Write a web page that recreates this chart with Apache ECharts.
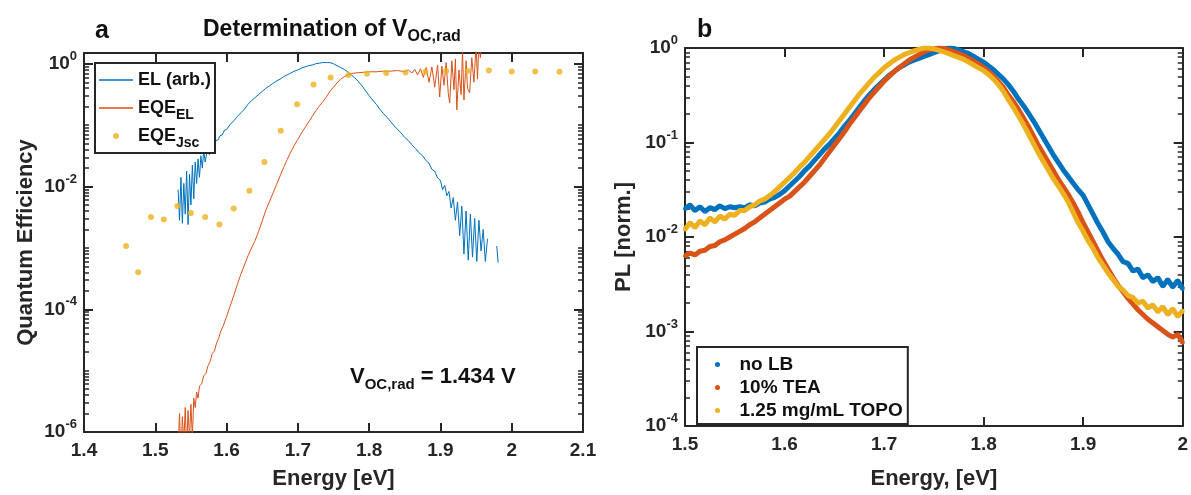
<!DOCTYPE html>
<html><head><meta charset="utf-8">
<script src="https://cdn.jsdelivr.net/npm/echarts@6/dist/echarts.min.js"></script>
<style>html,body{margin:0;padding:0;background:#fff}#c{width:1191px;height:495px}</style>
</head><body><div id="c"></div>
<script>
// ---------------- Panel a data ----------------
const energyEL = [1.532,1.534,1.536,1.538,1.540,1.542,1.544,1.546,1.548,1.550,1.552,1.554,1.556,1.558,1.560,1.562,1.564,1.566,1.568,1.570,
1.573,1.576,1.579,1.582,1.585,1.588,1.591,1.594,1.597,1.600,
1.605,1.610,1.615,1.620,1.625,1.630,1.635,1.640,1.645,1.650,1.655,1.660,1.665,1.670,1.675,1.680,1.685,1.690,1.695,1.700,
1.705,1.710,1.715,1.720,1.725,1.730,1.735,1.740,1.745,1.750,1.755,1.760,1.765,1.770,1.775,1.780,1.785,1.790,1.795,1.800,
1.805,1.810,1.815,1.820,1.825,1.830,1.835,1.840,1.845,1.850,1.855,1.860,1.865,1.870,1.875,1.880,
1.884,1.888,1.892,1.896,1.900,
1.903,1.906,1.909,1.912,1.915,1.918,1.921,1.924,1.927,1.930,1.933,1.936,1.939,1.942,1.945,1.948,1.951,1.954,1.957,1.960,1.963,1.966,
1.970,1.979,1.981];
// log10 of EL (arb.)
const log10EL = [-2.05,-2.55,-1.85,-2.60,-1.95,-2.45,-1.75,-2.62,-1.80,-2.30,-1.65,-2.20,-1.60,-1.95,-1.55,-1.85,-1.50,-1.70,-1.42,-1.60,
-1.40,-1.48,-1.33,-1.36,-1.25,-1.24,-1.17,-1.16,-1.08,-1.07,
-0.99,-0.93,-0.86,-0.80,-0.74,-0.66,-0.60,-0.55,-0.50,-0.45,-0.40,-0.36,-0.32,-0.28,-0.25,-0.21,-0.18,-0.15,-0.12,-0.10,
-0.07,-0.05,-0.03,-0.02,0.00,0.01,0.02,0.02,0.02,0.00,-0.03,-0.06,-0.09,-0.13,-0.18,-0.23,-0.29,-0.36,-0.44,-0.52,
-0.59,-0.66,-0.74,-0.81,-0.87,-0.94,-1.01,-1.07,-1.13,-1.20,-1.25,-1.32,-1.38,-1.45,-1.50,-1.58,
-1.62,-1.72,-1.75,-1.86,-1.90,
-2.05,-1.98,-2.15,-2.08,-2.35,-2.18,-2.55,-2.25,-2.80,-2.32,-3.10,-2.40,-3.20,-2.45,-3.15,-2.52,-3.22,-2.55,-3.05,-2.70,-3.22,-2.85,
null,-2.97,-3.24];

const energyEQEEL = [1.532,1.534,1.536,1.538,1.540,1.542,1.544,1.546,1.548,1.550,1.552,1.554,1.556,1.558,1.560,1.562,
1.565,1.568,1.571,1.574,1.577,1.580,1.583,1.586,1.589,1.592,1.595,
1.600,1.605,1.610,1.615,1.620,1.625,1.630,1.635,1.640,1.645,1.650,1.655,1.660,1.665,1.670,1.675,1.680,1.685,1.690,1.695,
1.700,1.705,1.710,1.715,1.720,1.725,1.730,1.735,1.740,1.745,1.750,1.755,1.760,1.765,1.770,1.775,1.780,
1.790,1.800,1.810,1.820,1.830,1.840,1.850,
1.855,1.860,1.864,1.868,1.872,1.876,1.880,1.884,1.888,1.892,1.896,1.899,1.902,1.905,1.908,1.911,1.913,1.916,1.919,1.921,
1.923,1.926,1.929,1.931,1.933,1.936,1.938,1.941,1.944,1.947,1.950,1.952,1.954,1.956,1.958];
// log10 of EQE_EL
const log10EQEEL = [-6.3,-5.7,-6.4,-5.75,-6.2,-5.6,-6.3,-5.65,-6.1,-5.55,-6.1,-5.45,-5.6,-5.35,-5.45,-5.25,
-5.22,-5.08,-5.05,-4.92,-4.85,-4.72,-4.68,-4.55,-4.47,-4.35,-4.28,
-4.12,-3.95,-3.78,-3.60,-3.43,-3.28,-3.13,-3.00,-2.88,-2.73,-2.56,-2.39,-2.25,-2.11,-1.97,-1.83,-1.69,-1.56,-1.44,-1.33,
-1.23,-1.13,-1.04,-0.95,-0.86,-0.77,-0.69,-0.62,-0.54,-0.45,-0.38,-0.31,-0.25,-0.21,-0.18,-0.16,-0.15,
-0.14,-0.13,-0.13,-0.12,-0.12,-0.11,-0.13,
-0.10,-0.15,-0.09,-0.18,-0.08,-0.22,-0.06,-0.30,-0.05,-0.38,-0.02,-0.54,-0.04,-0.35,0.02,-0.48,-0.64,0.05,-0.42,0.08,
-0.75,-0.10,-0.50,0.20,-0.59,0.05,-0.40,-0.47,0.10,-0.30,0.30,-0.25,0.35,0.10,0.40];

const energyJsc = [1.459,1.476,1.494,1.512,1.531,1.550,1.570,1.590,1.610,1.632,1.653,1.676,1.699,1.722,1.746,1.771,1.797,1.824,1.851,1.879,1.908,1.938,1.968,2.000,2.033,2.067];
const eqeJsc = [1.07e-3,4.0e-4,3.2e-3,2.9e-3,4.8e-3,3.7e-3,3.2e-3,2.4e-3,4.4e-3,8.5e-3,2.5e-2,8.1e-2,0.22,0.46,0.60,0.66,0.69,0.71,0.72,0.74,0.76,0.76,0.78,0.75,0.75,0.74];

const yLabelTicksA = [1e-6,1e-4,1e-2,1];
const yMinorDecadesA = [-6,-5,-4,-3,-2,-1];

// ---------------- Panel b data ----------------
const energyPL = [1.500,1.505,1.510,1.515,1.520,1.525,1.530,1.535,1.540,1.545,1.550,1.555,1.560,1.565,1.570,1.575,1.580,1.585,1.590,1.595,
1.600,1.605,1.610,1.615,1.620,1.625,1.630,1.635,1.640,1.645,1.650,1.655,1.660,1.665,1.670,1.675,1.680,1.685,1.690,1.695,
1.700,1.705,1.710,1.715,1.720,1.725,1.730,1.735,1.740,1.745,1.750,1.755,1.760,1.765,1.770,1.775,1.780,1.785,1.790,1.795,
1.800,1.805,1.810,1.815,1.820,1.825,1.830,1.835,1.840,1.845,1.850,1.855,1.860,1.865,1.870,1.875,1.880,1.885,1.890,1.895,
1.900,1.905,1.910,1.915,1.920,1.925,1.930,1.935,1.940,1.945,1.950,1.955,1.960,1.965,1.970,1.975,1.980,1.985,1.990,1.995,2.000];
const log10NoLB = [-1.70,-1.66,-1.72,-1.68,-1.73,-1.69,-1.71,-1.67,-1.70,-1.68,-1.69,-1.68,-1.69,-1.66,-1.67,-1.64,-1.63,-1.60,-1.58,-1.55,
-1.51,-1.46,-1.41,-1.36,-1.30,-1.25,-1.19,-1.13,-1.07,-1.02,-0.96,-0.90,-0.83,-0.77,-0.70,-0.63,-0.56,-0.50,-0.44,-0.39,
-0.34,-0.29,-0.25,-0.21,-0.18,-0.15,-0.13,-0.11,-0.09,-0.07,-0.05,-0.03,-0.01,0.00,-0.005,-0.02,-0.04,-0.06,-0.09,-0.12,
-0.15,-0.19,-0.23,-0.28,-0.33,-0.39,-0.46,-0.54,-0.61,-0.69,-0.77,-0.86,-0.95,-1.04,-1.13,-1.21,-1.29,-1.36,-1.43,-1.50,
-1.56,-1.66,-1.76,-1.86,-1.95,-2.05,-2.12,-2.18,-2.26,-2.28,-2.36,-2.34,-2.43,-2.40,-2.47,-2.43,-2.52,-2.45,-2.53,-2.46,-2.55];
const log10TEA = [-2.20,-2.17,-2.19,-2.15,-2.14,-2.10,-2.09,-2.05,-2.03,-2.00,-1.97,-1.94,-1.91,-1.87,-1.84,-1.80,-1.76,-1.72,-1.68,-1.64,
-1.60,-1.57,-1.52,-1.47,-1.42,-1.36,-1.30,-1.24,-1.17,-1.10,-1.03,-0.96,-0.89,-0.81,-0.74,-0.67,-0.60,-0.53,-0.47,-0.41,
-0.35,-0.30,-0.25,-0.21,-0.17,-0.13,-0.10,-0.07,-0.04,-0.02,-0.01,0.00,-0.005,-0.02,-0.04,-0.06,-0.08,-0.11,-0.14,-0.17,
-0.21,-0.25,-0.30,-0.36,-0.42,-0.50,-0.57,-0.65,-0.74,-0.83,-0.93,-1.03,-1.12,-1.21,-1.30,-1.39,-1.47,-1.55,-1.64,-1.74,
-1.85,-1.95,-2.05,-2.15,-2.25,-2.34,-2.43,-2.51,-2.58,-2.65,-2.71,-2.77,-2.82,-2.87,-2.91,-2.95,-2.99,-3.03,-3.06,-3.03,-3.12];
const log10TOPO = [-1.92,-1.85,-1.90,-1.83,-1.87,-1.80,-1.84,-1.78,-1.81,-1.76,-1.77,-1.72,-1.72,-1.68,-1.66,-1.62,-1.60,-1.56,-1.52,-1.47,
-1.42,-1.37,-1.32,-1.26,-1.21,-1.15,-1.09,-1.03,-0.97,-0.91,-0.84,-0.77,-0.70,-0.63,-0.56,-0.49,-0.43,-0.37,-0.31,-0.26,
-0.21,-0.17,-0.13,-0.10,-0.07,-0.05,-0.03,-0.015,0.00,0.00,-0.01,-0.025,-0.04,-0.06,-0.08,-0.10,-0.12,-0.15,-0.18,-0.21,
-0.24,-0.28,-0.33,-0.39,-0.46,-0.55,-0.63,-0.72,-0.81,-0.91,-1.01,-1.11,-1.20,-1.29,-1.38,-1.46,-1.54,-1.63,-1.74,-1.85,
-1.94,-2.04,-2.12,-2.22,-2.30,-2.38,-2.45,-2.52,-2.56,-2.62,-2.64,-2.70,-2.68,-2.75,-2.72,-2.79,-2.74,-2.82,-2.76,-2.84,-2.78];

const yLabelTicksB = [1e-4,1e-3,1e-2,1e-1,1];
const yMinorDecadesB = [-4,-3,-2,-1];

// ---------------- styling ----------------
const FONT = '"Liberation Sans", Arial, Helvetica, sans-serif';
const INK = '#262626';
const C_BLUE = '#0072BD', C_RED = '#D95319', C_YEL = '#EDB120';
const LINE_ICON = 'path://M0 0H100V4H0Z';

function minorTicks(decades, major) {
  const out = [];
  decades.forEach(k => { for (let m = 1; m <= 9; m++) { const v = +(m * Math.pow(10, k)).toPrecision(3); if (!major.some(t => Math.abs(t - v) / v < 1e-9)) out.push(v); } });
  return out;
}
const supRich = {
  b: {fontSize: 19, fontWeight: 'bold', color: INK, fontFamily: FONT, lineHeight: 28},
  s: {fontSize: 13, fontWeight: 'bold', color: INK, fontFamily: FONT, lineHeight: 12, verticalAlign: 'top'}
};
function yAxes(gi, min, max, major, minor, name, nameGap) {
  const base = {type: 'log', logBase: 10, gridIndex: gi, min: min, max: max, splitLine: {show: false}, minorTick: {show: false}, minorSplitLine: {show: false}};
  const axes = [];
  ['left', 'right'].forEach(pos => {
    axes.push(Object.assign({}, base, {
      position: pos,
      axisLine: {show: true, onZero: false, lineStyle: {color: INK, width: 2}},
      axisTick: {show: true, inside: true, length: 9, lineStyle: {color: INK, width: 2}, customValues: major},
      axisLabel: pos === 'left' ? {show: true, customValues: major, margin: 7,
        formatter: v => '{b|10}{s|' + Math.round(Math.log10(v)) + '}', rich: supRich} : {show: false},
      name: pos === 'left' ? name : '', nameLocation: 'middle', nameGap: nameGap,
      nameTextStyle: {fontSize: 22, fontWeight: 'bold', color: INK, fontFamily: FONT}
    }));
    axes.push(Object.assign({}, base, {
      position: pos,
      axisLine: {show: false},
      axisTick: {show: true, inside: true, length: 5, lineStyle: {color: INK, width: 1.5}, customValues: minor},
      axisLabel: {show: false}
    }));
  });
  return axes;
}
function xAxes(gi, min, max, name, nameGap) {
  const base = {type: 'value', gridIndex: gi, min: min, max: max, interval: 0.1, splitLine: {show: false},
    axisLine: {show: true, onZero: false, lineStyle: {color: INK, width: 2}},
    axisTick: {show: true, inside: true, length: 9, lineStyle: {color: INK, width: 2}}};
  return [
    Object.assign({}, base, {position: 'bottom', name: name, nameLocation: 'middle', nameGap: nameGap,
      nameTextStyle: {fontSize: 22, fontWeight: 'bold', color: INK, fontFamily: FONT},
      axisLabel: {show: true, margin: 9, fontSize: 19, fontWeight: 'bold', color: INK, fontFamily: FONT}}),
    Object.assign({}, base, {position: 'top', axisLabel: {show: false}})
  ];
}

const toPairs = (xs, logs) => xs.map((x, i) => [x, logs[i] === null ? '-' : Math.pow(10, logs[i])]);
function plSeries(name, logs, color, z) {
  return {name: name, type: 'line', xAxisIndex: 2, yAxisIndex: 4, data: toPairs(energyPL, logs),
    symbol: 'circle', symbolSize: 4, showSymbol: true, lineStyle: {color: color, width: 5}, itemStyle: {color: color},
    clip: true, z: z};
}

const option = {
  animation: false,
  backgroundColor: '#fff',
  grid: [
    {left: 84, top: 53, width: 499, height: 380},
    {left: 685, top: 48, width: 500, height: 389}
  ],
  xAxis: [].concat(xAxes(0, 1.4, 2.1, 'Energy [eV]', 36), xAxes(1, 1.5, 2.0, 'Energy, [eV]', 42)),
  yAxis: [].concat(
    yAxes(0, 1e-6, 1.5, yLabelTicksA, minorTicks(yMinorDecadesA, yLabelTicksA), 'Quantum Efficiency', 47),
    yAxes(1, 1e-4, 1, yLabelTicksB, minorTicks(yMinorDecadesB, yLabelTicksB), 'PL [norm.]', 50)
  ),
  legend: [
    {orient: 'vertical', left: 95, top: 63, padding: [3, 4, 3, 4], itemGap: 0, itemWidth: 34, itemHeight: 6,
      borderColor: INK, borderWidth: 2, backgroundColor: '#fff',
      data: [{name: 'EL (arb.)', icon: LINE_ICON}, {name: 'EQE_EL', icon: LINE_ICON}, {name: 'EQE_Jsc', icon: 'circle'}],
      formatter: n => n === 'EQE_EL' ? '{m|EQE}{s|EL}' : (n === 'EQE_Jsc' ? '{m|EQE}{s|Jsc}' : n),
      textStyle: {fontSize: 18, fontWeight: 'bold', color: '#111', fontFamily: FONT, lineHeight: 28,
        rich: {m: {fontSize: 18, fontWeight: 'bold', color: '#111', fontFamily: FONT, lineHeight: 28},
               s: {fontSize: 14, fontWeight: 'bold', color: '#111', fontFamily: FONT, lineHeight: 10, verticalAlign: 'bottom'}}}},
    {orient: 'vertical', left: 697, top: 347, padding: [6, 5, 2, 18], itemGap: 0, itemWidth: 34, itemHeight: 5,
      borderColor: INK, borderWidth: 2, backgroundColor: '#fff',
      data: [{name: 'no LB', icon: 'circle'}, {name: '10% TEA', icon: 'circle'}, {name: '1.25 mg/mL TOPO', icon: 'circle'}],
      textStyle: {fontSize: 19, fontWeight: 'bold', color: '#111', fontFamily: FONT, lineHeight: 23}}
  ],
  series: [
    {name: 'EL (arb.)', type: 'line', xAxisIndex: 0, yAxisIndex: 0, data: toPairs(energyEL, log10EL), symbol: 'none',
      lineStyle: {color: C_BLUE, width: 1}, itemStyle: {color: C_BLUE}, connectNulls: false, clip: true, z: 2},
    {name: 'EQE_EL', type: 'line', xAxisIndex: 0, yAxisIndex: 0, data: toPairs(energyEQEEL, log10EQEEL), symbol: 'none',
      lineStyle: {color: C_RED, width: 1}, itemStyle: {color: C_RED}, clip: true, z: 3},
    {name: 'EQE_Jsc', type: 'scatter', xAxisIndex: 0, yAxisIndex: 0, data: energyJsc.map((e, i) => [e, eqeJsc[i]]),
      symbol: 'circle', symbolSize: 6, itemStyle: {color: C_YEL}, clip: true, z: 4},
    plSeries('no LB', log10NoLB, C_BLUE, 2),
    plSeries('10% TEA', log10TEA, C_RED, 3),
    plSeries('1.25 mg/mL TOPO', log10TOPO, C_YEL, 4)
  ],
  graphic: [
    {type: 'text', left: 95, top: 19, style: {text: 'a', fontSize: 25, fontWeight: 'bold', fontFamily: FONT, fill: '#111'}},
    {type: 'text', left: 697, top: 18, style: {text: 'b', fontSize: 25, fontWeight: 'bold', fontFamily: FONT, fill: '#111'}},
    {type: 'text', left: 203, top: 18, style: {text: '{m|Determination of V}{s|OC,rad}', rich: {
      m: {fontSize: 23, fontWeight: 'bold', fontFamily: FONT, fill: '#111', lineHeight: 30},
      s: {fontSize: 16, fontWeight: 'bold', fontFamily: FONT, fill: '#111', lineHeight: 12, verticalAlign: 'bottom'}}}},
    {type: 'text', left: 350, top: 366, style: {text: '{m|V}{s|OC,rad}{m| = 1.434 V}', rich: {
      m: {fontSize: 22, fontWeight: 'bold', fontFamily: FONT, fill: '#111', lineHeight: 30},
      s: {fontSize: 15, fontWeight: 'bold', fontFamily: FONT, fill: '#111', lineHeight: 12, verticalAlign: 'bottom'}}}}
  ]
};
echarts.init(document.getElementById('c'), null, {renderer: 'canvas'}).setOption(option);
</script></body></html>
